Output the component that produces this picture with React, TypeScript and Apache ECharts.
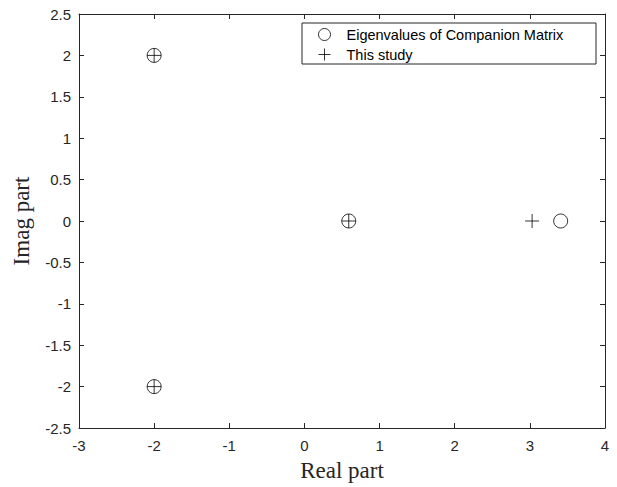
import React, { useEffect, useRef } from "react";
import * as echarts from "echarts";

const circleName = "Eigenvalues of Companion Matrix";
const plusName = "This study";
const circleX = [-2, -2, 0.59, 3.41];
const circleY = [2, -2, 0, 0];
const plusX = [-2, -2, 0.59, 3.03];
const plusY = [2, -2, 0, 0];
const xTicks = [-3, -2, -1, 0, 1, 2, 3, 4];
const yTicks = [-2.5, -2, -1.5, -1, -0.5, 0, 0.5, 1, 1.5, 2, 2.5];

const PLUS = "path://M0,7L14,7M7,0L7,14";
const AX = "#262626";
const SANS = "'Liberation Sans', Arial, Helvetica, sans-serif";
const SERIF = "'Liberation Serif', 'Times New Roman', serif";

export default function App() {
  const ref = useRef<HTMLDivElement>(null);
  useEffect(() => {
    const chart = echarts.init(ref.current!, null, { renderer: "svg" });
    const axisCommon = (show: boolean) => ({
      axisLine: { show: true, onZero: false, lineStyle: { color: AX, width: 1 } },
      axisTick: { show: true, inside: true, length: 5, lineStyle: { color: AX } },
      splitLine: { show: false },
      axisLabel: {
        show,
        color: AX,
        fontFamily: SANS,
        fontSize: 15,
      },
    });
    chart.setOption({
      animation: false,
      backgroundColor: "#fff",
      grid: { left: 79, right: 12, top: 14, bottom: 58, containLabel: false },
      graphic: [
        {
          type: "rect",
          shape: { x: 302, y: 23, width: 294, height: 41 },
          style: { fill: "#fff", stroke: AX, lineWidth: 1 },
          z: 5,
        },
      ],
      legend: {
        orient: "vertical",
        left: 318,
        top: 27,
        padding: 0,
        itemWidth: 12,
        itemHeight: 12,
        itemGap: 5,
        z: 10,
        textStyle: { fontFamily: SANS, fontSize: 14.5, color: "#000", padding: [0, 0, 0, 11] },
        data: [
          {
            name: circleName,
            icon: "circle",
            itemStyle: { color: "transparent", borderColor: "#000", borderWidth: 1 },
          },
          {
            name: plusName,
            icon: PLUS,
            itemStyle: { color: "transparent", borderColor: "#000", borderWidth: 1 },
          },
        ],
      },
      xAxis: [
        {
          type: "value",
          min: xTicks[0],
          max: xTicks[xTicks.length - 1],
          interval: 1,
          name: "Real part",
          nameLocation: "middle",
          nameGap: 31,
          nameTextStyle: { fontFamily: SERIF, fontSize: 23, color: AX },
          ...axisCommon(true),
          axisLabel: { ...axisCommon(true).axisLabel, margin: 10 },
        },
        {
          type: "value",
          position: "top",
          min: xTicks[0],
          max: xTicks[xTicks.length - 1],
          interval: 1,
          ...axisCommon(false),
        },
      ],
      yAxis: [
        {
          type: "value",
          min: yTicks[0],
          max: yTicks[yTicks.length - 1],
          interval: 0.5,
          name: "Imag part",
          nameLocation: "middle",
          nameGap: 46,
          nameTextStyle: { fontFamily: SERIF, fontSize: 23, color: AX },
          ...axisCommon(true),
          axisLabel: { ...axisCommon(true).axisLabel, margin: 8 },
        },
        {
          type: "value",
          position: "right",
          min: yTicks[0],
          max: yTicks[yTicks.length - 1],
          interval: 0.5,
          ...axisCommon(false),
        },
      ],
      series: [
        {
          name: circleName,
          type: "scatter",
          symbol: "circle",
          symbolSize: 14,
          itemStyle: { color: "transparent", borderColor: "#000", borderWidth: 1 },
          data: circleX.map((x, i) => [x, circleY[i]]),
        },
        {
          name: plusName,
          type: "scatter",
          symbol: PLUS,
          symbolSize: 14,
          itemStyle: { color: "transparent", borderColor: "#000", borderWidth: 1 },
          data: plusX.map((x, i) => [x, plusY[i]]),
        },
      ],
    });
    return () => chart.dispose();
  }, []);
  return <div ref={ref} style={{ width: 617, height: 487, position: "absolute", left: 0, top: 0 }} />;
}
